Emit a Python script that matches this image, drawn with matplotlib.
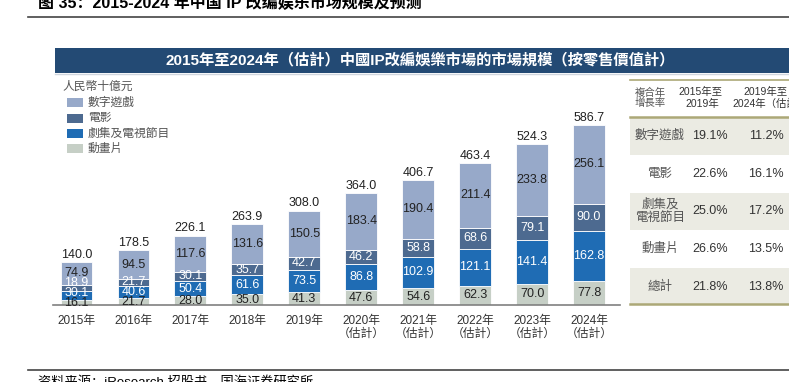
import matplotlib
matplotlib.use('Agg')
import matplotlib.pyplot as plt
from matplotlib.patches import Rectangle
from matplotlib.lines import Line2D

plt.rcParams['font.family'] = ['Liberation Sans', 'Noto Sans CJK TC', 'DejaVu Sans']

# ============================================================
# 数据
years = ['2015年', '2016年', '2017年', '2018年', '2019年',
         '2020年\n（估計）', '2021年\n（估計）', '2022年\n（估計）', '2023年\n（估計）', '2024年\n（估計）']
animation = [16.1, 21.7, 28.0, 35.0, 41.3, 47.6, 54.6, 62.3, 70.0, 77.8]
tv_series = [30.1, 40.6, 50.4, 61.6, 73.5, 86.8, 102.9, 121.1, 141.4, 162.8]
film = [18.9, 21.7, 30.1, 35.7, 42.7, 46.2, 58.8, 68.6, 79.1, 90.0]
games = [74.9, 94.5, 117.6, 131.6, 150.5, 183.4, 190.4, 211.4, 233.8, 256.1]
totals = [140.0, 178.5, 226.1, 263.9, 308.0, 364.0, 406.7, 463.4, 524.3, 586.7]

series_names = ['數字遊戲', '電影', '劇集及電視節目', '動畫片']
series_colors = ['#97a9c9', '#4d6a90', '#1f6cb4', '#c6cfc6']
series_text = ['#222222', 'white', 'white', '#222222']

table_rows = ['數字遊戲', '電影', '劇集及\n電視節目', '動畫片', '總計']
cagr_15_19 = ['19.1%', '22.6%', '25.0%', '26.6%', '21.8%']
cagr_19_24 = ['11.2%', '16.1%', '17.2%', '13.5%', '13.8%']

W, H = 789, 382


def fx(x):
    return x / W


def fy(y):
    return 1 - y / H


fig = plt.figure(figsize=(W / 100, H / 100), dpi=100)

# 顶部标题
fig.text(fx(38), fy(3), '图 35：2015-2024 年中国 IP 改编娱乐市场规模及预测', fontsize=11.5,
         fontweight='bold', family=['Liberation Sans', 'Noto Sans CJK SC'], va='center', ha='left')
fig.add_artist(Line2D([fx(28), fx(789)], [fy(17), fy(17)], color='#444444', lw=1.2))

# 深蓝标题栏
fig.add_artist(Rectangle((fx(55), fy(72.5)), fx(789 - 55), 24.5 / H, color='#234a74', lw=0))
fig.add_artist(Line2D([fx(55), fx(789)], [fy(74), fy(74)], color='#d0d6de', lw=1))
fig.text(fx(420), fy(60), '2015年至2024年（估計）中國IP改編娛樂市場的市場規模（按零售價值計）',
         fontsize=11, fontweight='bold', color='white', ha='center', va='center')

# 柱状图
ax = fig.add_axes([fx(53), fy(305), fx(620 - 53), 184 / H])
x = range(len(years))
bottom = [0] * len(years)
stack = [animation, tv_series, film, games]
stack_colors = [series_colors[3], series_colors[2], series_colors[1], series_colors[0]]
stack_text = [series_text[3], series_text[2], series_text[1], series_text[0]]
label_prev = [-100] * len(years)  # 小段标签向上错开
for vals, c, tc in zip(stack, stack_colors, stack_text):
    ax.bar(x, vals, width=0.56, bottom=bottom, color=c, edgecolor='white', linewidth=0.6)
    for i, v in enumerate(vals):
        pos = max(bottom[i] + v / 2, label_prev[i] + 32)
        label_prev[i] = pos
        ax.text(i, pos, '{:.1f}'.format(v), ha='center', va='center', fontsize=9, color=tc)
    bottom = [b + v for b, v in zip(bottom, vals)]
for i, t in enumerate(totals):
    ax.text(i, t + 4, '{:.1f}'.format(t), ha='center', va='bottom', fontsize=9, color='#222222')

ax.set_xlim(-0.413, 9.544)
ax.set_ylim(0, 600)
ax.set_xticks(list(x))
ax.set_xticklabels(years, fontsize=8.5, color='#333333', linespacing=1.1)
ax.tick_params(axis='x', length=0, pad=7)
ax.set_yticks([])
for s in ['top', 'right', 'left']:
    ax.spines[s].set_visible(False)
ax.spines['bottom'].set_color('#808080')
ax.spines['bottom'].set_linewidth(1.2)

# 图例
fig.text(fx(62), fy(87), '人民幣十億元', fontsize=8.5, color='#555555', va='center')
for k, (name, c) in enumerate(zip(series_names, series_colors)):
    yc = 103 + k * 15.3
    fig.add_artist(Rectangle((fx(67), fy(yc + 4.5)), fx(16), 9 / H, color=c, lw=0))
    fig.text(fx(88), fy(yc), name, fontsize=8.5, color='#555555', va='center')

# 右侧表格
line_c = '#aca877'
row_tops = [117, 155, 193, 230, 268]
row_h = [38, 38, 37, 38, 37]
for k, name in enumerate(table_rows):
    top = row_tops[k]
    if k % 2 == 0:
        fig.add_artist(Rectangle((fx(630), fy(top + row_h[k])), fx(789 - 630), row_h[k] / H,
                                 color='#ebebe3', lw=0))
    yc = top + row_h[k] / 2
    fig.text(fx(660), fy(yc), name, fontsize=9, color='#555555', ha='center', va='center',
             linespacing=1.15)
    fig.text(fx(710), fy(yc), cagr_15_19[k], fontsize=9, color='#333333', ha='center', va='center')
    fig.text(fx(766), fy(yc), cagr_19_24[k], fontsize=9, color='#333333', ha='center', va='center')
fig.add_artist(Line2D([fx(630), fx(789)], [fy(80), fy(80)], color=line_c, lw=1.2))
fig.add_artist(Line2D([fx(630), fx(789)], [fy(117), fy(117)], color=line_c, lw=1.8))
fig.add_artist(Line2D([fx(630), fx(789)], [fy(304), fy(304)], color=line_c, lw=1.8))
fig.text(fx(635), fy(98), '複合年\n增長率', fontsize=7.5, color='#555555', ha='left', va='center',
         linespacing=1.05)
fig.text(fx(678), fy(92), '2015年至', fontsize=7.5, color='#333333', ha='left', va='center')
fig.text(fx(685), fy(103.5), '2019年', fontsize=7.5, color='#333333', ha='left', va='center')
fig.text(fx(743), fy(92), '2019年至', fontsize=7.5, color='#333333', ha='left', va='center')
fig.text(fx(732), fy(103.5), '2024年（估計）', fontsize=7.5, color='#333333', ha='left', va='center')

# 资料来源
fig.add_artist(Line2D([fx(28), fx(789)], [fy(370), fy(370)], color='#444444', lw=1.2))
fig.text(fx(38), fy(376), '资料来源：iResearch 招股书，国海证券研究所', fontsize=9.5,
         family=['Liberation Sans', 'Noto Sans CJK SC'], va='top', ha='left')

plt.savefig('out.png', dpi=100)
